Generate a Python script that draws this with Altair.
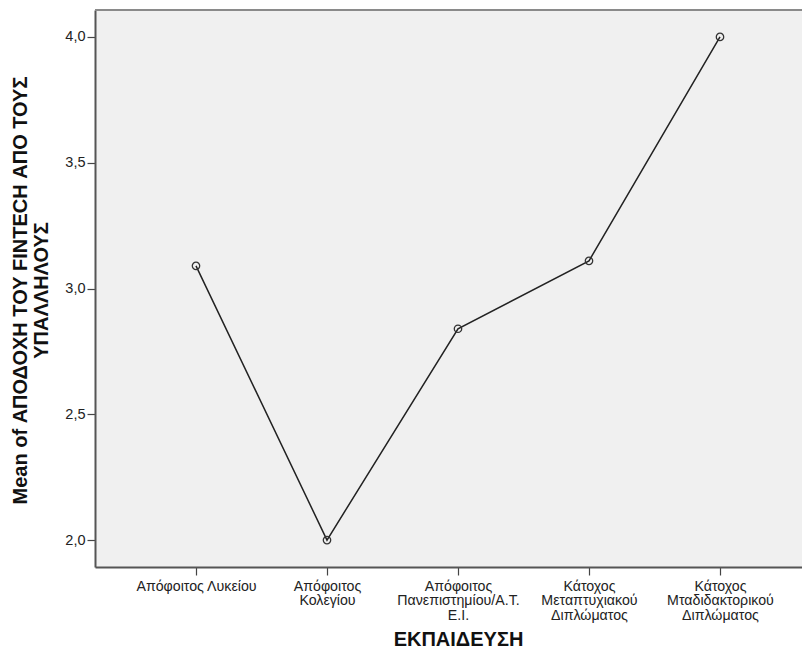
import json
import altair as alt
import pandas as pd

categories = [
    "Απόφοιτος Λυκείου",
    "Απόφοιτος Κολεγίου",
    "Απόφοιτος Πανεπιστημίου/Α.Τ.Ε.Ι.",
    "Κάτοχος Μεταπτυχιακού Διπλώματος",
    "Κάτοχος Μταδιδακτορικού Διπλώματος",
]
label_lines = [
    ["Απόφοιτος Λυκείου"],
    ["Απόφοιτος", "Κολεγίου"],
    ["Απόφοιτος", "Πανεπιστημίου/Α.Τ.", "Ε.Ι."],
    ["Κάτοχος", "Μεταπτυχιακού", "Διπλώματος"],
    ["Κάτοχος", "Μταδιδακτορικού", "Διπλώματος"],
]
means = [3.09, 2.00, 2.84, 3.11, 4.00]
y_ticks = [2.0, 2.5, 3.0, 3.5, 4.0]
y_title = ["Mean of ΑΠΟΔΟΧΗ ΤΟΥ FINTECH ΑΠΟ ΤΟΥΣ", "ΥΠΑΛΛΗΛΟΥΣ"]
x_title = "ΕΚΠΑΙΔΕΥΣΗ"

df = pd.DataFrame({"idx": list(range(len(categories))), "category": categories, "mean": means})

FONT = "Liberation Sans"
W, H = 707, 557

x_enc = alt.X(
    "idx:Q",
    scale=alt.Scale(domain=[-0.771, 4.626], nice=False, zero=False),
    axis=alt.Axis(
        values=list(range(len(categories))),
        labelExpr=json.dumps(label_lines, ensure_ascii=False) + "[datum.value]",
        title=x_title,
        titleX=363,
        titleY=78,
        titleBaseline="alphabetic",
        titleFontSize=20,
        titleFontWeight="bold",
        titleFont=FONT,
        titleColor="#111",
        labelFont=FONT,
        labelFontSize=14.2,
        labelColor="#222",
        labelLineHeight=14.5,
        labelBaseline="top",
        labelPadding=4,
        labelAngle=0,
        labelOverlap=False,
        labelFlush=False,
        tickSize=8,
        tickColor="#444",
        tickWidth=1.2,
        domainColor="#555",
        domainWidth=2,
        grid=False,
    ),
)
y_enc = alt.Y(
    "mean:Q",
    scale=alt.Scale(domain=[1.893, 4.107], nice=False, zero=False),
    axis=alt.Axis(
        values=y_ticks,
        labelExpr="replace(format(datum.value, '.1f'), '.', ',')",
        title=y_title,
        titleAngle=270,
        titleX=-75,
        titleY=280,
        titleAlign="center",
        titleBaseline="middle",
        titleFontSize=20,
        titleLineHeight=21,
        titleFontWeight="bold",
        titleFont=FONT,
        titleColor="#111",
        labelFont=FONT,
        labelFontSize=14.5,
        labelColor="#222",
        labelPadding=2,
        tickSize=8,
        tickColor="#444",
        tickWidth=1.2,
        domainColor="#555",
        domainWidth=2,
        grid=False,
    ),
)

base = alt.Chart(df)
line = base.mark_line(color="#222", strokeWidth=1.5).encode(x=x_enc, y=y_enc)
points = base.mark_point(shape="circle", filled=False, size=55, color="#333", strokeWidth=1.3, opacity=1).encode(
    x="idx:Q", y="mean:Q"
)
top_border = base.mark_rule(color="#8a8a8a", strokeWidth=2).encode(
    x=alt.value(0), x2=alt.value(W), y=alt.value(0)
)

chart = (
    alt.layer(line, points, top_border)
    .properties(
        width=W,
        height=H,
        padding={"left": 87, "top": 2, "right": 0, "bottom": 81},
        autosize=alt.AutoSizeParams(type="none"),
        background="white",
    )
    .configure_view(fill="#F0F0F0", stroke=None)
)

chart.save("out.html", embed_options={"renderer": "svg", "actions": False})
